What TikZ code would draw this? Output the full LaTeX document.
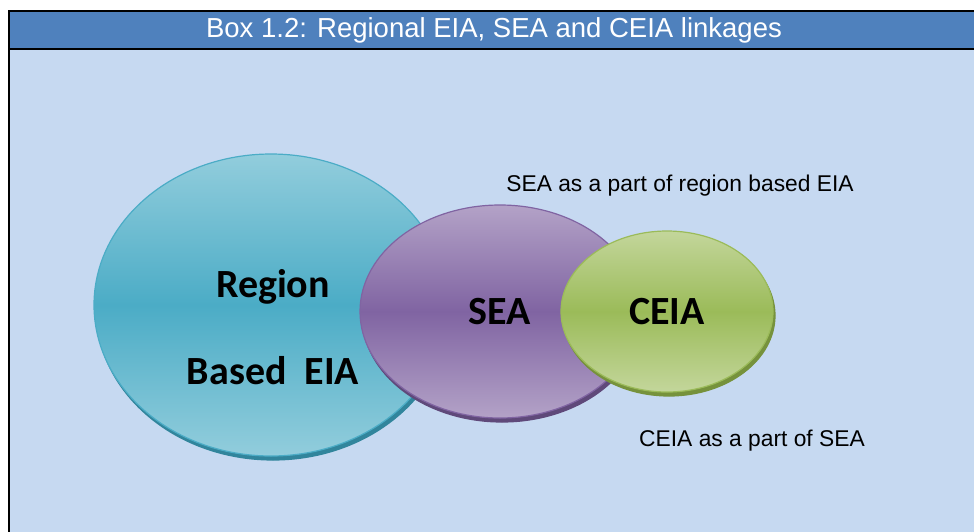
\documentclass[tikz,border=0pt]{standalone}
\usepackage{fontspec}
\setmainfont{Liberation Sans}
\newfontfamily\calibrifont{Carlito}
\usepackage{tikz}
\usetikzlibrary{shapes.geometric,shadows}
\definecolor{headblue}{RGB}{79,129,189}
\definecolor{paleblue}{RGB}{198,217,241}
\definecolor{tealmid}{RGB}{75,172,198}
\definecolor{teallight}{RGB}{146,205,220}
\definecolor{tealdark}{RGB}{49,133,156}
\definecolor{purplemid}{RGB}{128,100,162}
\definecolor{purplelight}{RGB}{179,162,199}
\definecolor{purpledark}{RGB}{95,73,122}
\definecolor{greenmid}{RGB}{155,187,89}
\definecolor{greenlight}{RGB}{195,214,155}
\definecolor{greendark}{RGB}{118,146,60}

\begin{document}
\begin{tikzpicture}[x=0.5pt, y=-0.5pt,
    bubble/.style={ellipse, line width=0.6pt, inner sep=0pt},
    bigtext/.style={font=\calibrifont\bfseries\fontsize{20}{24}\selectfont},
    note/.style={font=\fontsize{11.4}{14}\selectfont}]
    \useasboundingbox (0,0) rectangle (974,531);

    % Box frame and heading
    \fill[paleblue] (10,49) rectangle (980,540);
    \fill[headblue] (10,11) rectangle (980,49);
    \draw[line width=1pt] (9,540) -- (9,11) -- (980,11);
    \draw[line width=1pt] (9,49) -- (980,49);
    \node[text=white, font=\fontsize{13.75}{16}\selectfont] (title) at (494,30) {Box 1.2: Regional EIA, SEA and CEIA linkages};

    % Region based EIA
    \node[bubble, draw=tealmid, top color=teallight, bottom color=teallight, middle color=tealmid,
          minimum width=177pt, minimum height=151pt,
          copy shadow={shadow xshift=1pt, shadow yshift=-2pt, fill=tealdark, draw=tealdark}] (region) at (271,305) {};
    \node[bigtext] (regtxt) at (273,287) {Region};
    \node[bigtext] (basedtxt) at (273,371) {Based\ \ EIA};

    % SEA
    \node[bubble, draw=purplemid, top color=purplelight, bottom color=purplelight, middle color=purplemid,
          minimum width=140pt, minimum height=106.5pt,
          copy shadow={shadow xshift=1pt, shadow yshift=-2pt, fill=purpledark, draw=purpledark}, bigtext] (sea) at (500,311.5) {SEA};

    % CEIA
    \node[bubble, draw=greenmid, top color=greenlight, bottom color=greenlight, middle color=greenmid,
          minimum width=106pt, minimum height=80.5pt,
          copy shadow={shadow xshift=1pt, shadow yshift=-2pt, fill=greendark, draw=greendark}, bigtext] (ceia) at (667,311.5) {CEIA};

    % Notes
    \node[note] (seanote) at (680,186) {SEA as a part of region based EIA};
    \node[note] (ceianote) at (752,441) {CEIA as a part of SEA};
\end{tikzpicture}
\end{document}
